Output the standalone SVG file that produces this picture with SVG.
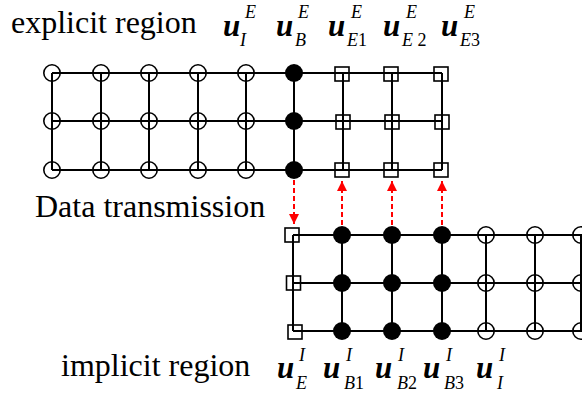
<svg xmlns="http://www.w3.org/2000/svg" xmlns:xlink="http://www.w3.org/1999/xlink" width="582" height="394" viewBox="0 0 582 394">
<style>
.grid{stroke:#000;stroke-width:2;fill:none}
.oc{fill:none;stroke:#000;stroke-width:1.6}
.fc{fill:#000;stroke:none}
.sq{fill:none;stroke:#000;stroke-width:1.6}
.arr{stroke:#ff0000;stroke-width:2;stroke-dasharray:5 3;fill:none}
text{font-family:'Liberation Serif','Times New Roman',serif}
.t{font-size:32px;fill:#000}
.u{font-size:31px;font-weight:bold;font-style:italic;fill:#000}
.s{font-size:18px;font-style:italic;fill:#000}
.d{font-style:normal}
</style>
<defs>
<circle id="oc" class="oc" cx="0" cy="0" r="8.2"/>
<circle id="fc" class="fc" cx="0" cy="0" r="9"/>
<rect id="sq" class="sq" x="-7" y="-7" width="14" height="14"/>
<marker id="ah" markerUnits="userSpaceOnUse" markerWidth="12" markerHeight="12" refX="10" refY="5" orient="auto">
<path d="M0,0 L10,5 L0,10 Z" fill="#ff0000"/>
</marker>
</defs>
<rect width="582" height="394" fill="#fff"/>
<g id="texts">
<text class="t" x="11" y="33">explicit region</text>
<text class="t" x="35" y="217">Data transmission</text>
<text class="t" x="61" y="376">implicit region</text>
</g>
<g id="grid-lines" class="grid">
<path d="M52,73H442M52,121H442M52,170H442"/>
<path d="M52,73V170M101,73V170M149,73V170M198,73V170M246,73V170M294,73V170M343,73V170M392,73V170M442,73V170"/>
<path d="M293,235H582M293,283H582M293,331H582"/>
<path d="M293,235V331M342,235V331M392,235V331M442,235V331M486,235V331M535,235V331M581,235V331"/>
</g>
<g id="connectors">
<line class="arr" x1="294" y1="180" x2="294" y2="224" marker-end="url(#ah)"/>
<line class="arr" x1="342" y1="225" x2="342" y2="181" marker-end="url(#ah)"/>
<line class="arr" x1="392" y1="225" x2="392" y2="181" marker-end="url(#ah)"/>
<line class="arr" x1="442" y1="225" x2="442" y2="181" marker-end="url(#ah)"/>
</g>
<g id="explicit-nodes">
<g id="e1"><use xlink:href="#oc" x="52" y="73"/><use xlink:href="#oc" x="52" y="121"/><use xlink:href="#oc" x="52" y="170"/></g>
<g id="e2"><use xlink:href="#oc" x="101" y="73"/><use xlink:href="#oc" x="101" y="121"/><use xlink:href="#oc" x="101" y="170"/></g>
<g id="e3"><use xlink:href="#oc" x="149" y="73"/><use xlink:href="#oc" x="149" y="121"/><use xlink:href="#oc" x="149" y="170"/></g>
<g id="e4"><use xlink:href="#oc" x="198" y="73"/><use xlink:href="#oc" x="198" y="121"/><use xlink:href="#oc" x="198" y="170"/></g>
<g id="e5"><use xlink:href="#oc" x="246" y="73"/><use xlink:href="#oc" x="246" y="121"/><use xlink:href="#oc" x="246" y="170"/></g>
<g id="e6"><use xlink:href="#fc" x="294" y="73"/><use xlink:href="#fc" x="294" y="121"/><use xlink:href="#fc" x="294" y="170"/></g>
<g id="e7"><use xlink:href="#sq" x="342" y="74"/><use xlink:href="#sq" x="343" y="122"/><use xlink:href="#sq" x="342" y="170"/></g>
<g id="e8"><use xlink:href="#sq" x="391" y="74"/><use xlink:href="#sq" x="392" y="122"/><use xlink:href="#sq" x="391" y="170"/></g>
<g id="e9"><use xlink:href="#sq" x="441" y="74"/><use xlink:href="#sq" x="442" y="122"/><use xlink:href="#sq" x="441" y="170"/></g>
</g>
<g id="implicit-nodes">
<g id="i1"><use xlink:href="#sq" x="292" y="235"/><use xlink:href="#sq" x="293.5" y="283"/><use xlink:href="#sq" x="295" y="332"/></g>
<g id="i2"><use xlink:href="#fc" x="342" y="235"/><use xlink:href="#fc" x="342" y="283"/><use xlink:href="#fc" x="342" y="331"/></g>
<g id="i3"><use xlink:href="#fc" x="392" y="235"/><use xlink:href="#fc" x="392" y="283"/><use xlink:href="#fc" x="392" y="331"/></g>
<g id="i4"><use xlink:href="#fc" x="442" y="235"/><use xlink:href="#fc" x="442" y="283"/><use xlink:href="#fc" x="442" y="331"/></g>
<g id="i5"><use xlink:href="#oc" x="486" y="235"/><use xlink:href="#oc" x="486" y="283"/><use xlink:href="#oc" x="486" y="331"/></g>
<g id="i6"><use xlink:href="#oc" x="535" y="235"/><use xlink:href="#oc" x="535" y="283"/><use xlink:href="#oc" x="535" y="331"/></g>
<g id="i7"><use xlink:href="#oc" x="581" y="235"/><use xlink:href="#oc" x="581" y="283"/><use xlink:href="#oc" x="581" y="331"/></g>
</g>
<g id="labels-top">
<text class="u" x="223" y="36">u</text><text class="s" x="245" y="18">E</text><text class="s" x="240" y="46">I</text>
<text class="u" x="276" y="36">u</text><text class="s" x="298" y="18">E</text><text class="s" x="295" y="46">B</text>
<text class="u" x="328" y="36">u</text><text class="s" x="351" y="18">E</text><text class="s" x="347" y="46">E<tspan class="d">1</tspan></text>
<text class="u" x="383" y="36">u</text><text class="s" x="406" y="18">E</text><text class="s" x="402" y="46">E <tspan class="d">2</tspan></text>
<text class="u" x="441" y="36">u</text><text class="s" x="464" y="18">E</text><text class="s" x="460" y="46">E<tspan class="d">3</tspan></text>
</g>
<g id="labels-bottom">
<text class="u" x="277" y="378">u</text><text class="s" x="299" y="361">I</text><text class="s" x="296" y="389">E</text>
<text class="u" x="323" y="378">u</text><text class="s" x="346" y="361">I</text><text class="s" x="344" y="389">B<tspan class="d">1</tspan></text>
<text class="u" x="375" y="378">u</text><text class="s" x="398" y="361">I</text><text class="s" x="397" y="389">B<tspan class="d">2</tspan></text>
<text class="u" x="423" y="378">u</text><text class="s" x="446" y="361">I</text><text class="s" x="444" y="389">B<tspan class="d">3</tspan></text>
<text class="u" x="476" y="378">u</text><text class="s" x="499" y="361">I</text><text class="s" x="497" y="389">I</text>
</g>
</svg>
